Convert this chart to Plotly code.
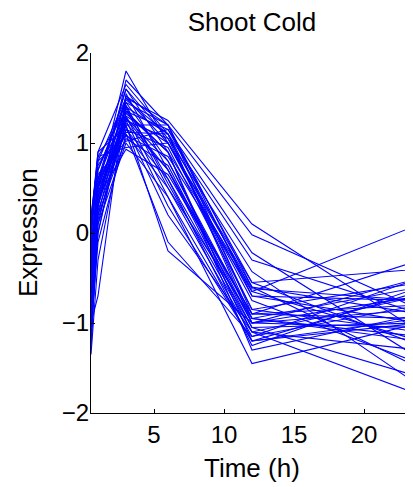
import plotly.graph_objects as go

time_h = [0.5, 1, 3, 6, 12, 24]

series = [
    [-0.20, 0.50, 1.80, 1.00, -0.60, -0.90],
    [-1.30, 0.30, 1.70, 1.20, -0.90, -0.80],
    [0.10, 0.90, 1.65, 1.10, -1.00, -0.70],
    [-0.50, 0.60, 1.60, 0.90, -1.20, -1.00],
    [-1.00, -0.70, 1.55, 0.70, -1.10, -1.30],
    [0.20, 0.80, 1.50, 1.25, 0.10, -1.10],
    [-0.30, 0.40, 1.50, 1.00, -0.55, -0.40],
    [-0.80, 0.20, 1.45, 0.80, -0.95, -0.60],
    [0.00, 0.70, 1.45, 1.20, -0.02, -0.85],
    [-0.60, 0.50, 1.40, 0.60, -1.05, -1.60],
    [-1.20, 0.10, 1.40, 1.10, -0.65, -1.20],
    [-0.40, 0.60, 1.38, 0.50, -1.15, -0.50],
    [0.10, 0.85, 1.35, 1.15, -0.22, -1.40],
    [-0.90, 0.00, 1.35, 0.90, -1.30, -0.90],
    [-0.10, 0.50, 1.30, 0.40, -1.45, -1.00],
    [-0.70, 0.30, 1.30, 1.00, -0.70, -0.75],
    [-1.35, -0.30, 1.28, 0.80, -1.00, -1.05],
    [0.05, 0.75, 1.25, 0.30, -1.20, -0.95],
    [-0.50, 0.40, 1.25, 1.05, -0.43, -1.70],
    [-0.25, 0.55, 1.22, 0.70, -0.90, -0.30],
    [-1.00, 0.15, 1.20, -0.20, -1.00, -0.85],
    [-0.60, 0.45, 1.20, 1.20, -0.60, -1.50],
    [0.15, 0.90, 1.18, 0.20, -1.10, -0.70],
    [-0.35, 0.35, 1.15, 0.95, -0.85, -1.10],
    [-0.80, 0.25, 1.15, 0.60, -1.25, -0.60],
    [-0.15, 0.60, 1.12, 1.10, -0.30, -0.90],
    [-1.10, -0.10, 1.10, 0.50, -0.95, -1.20],
    [-0.45, 0.50, 1.10, -0.10, -1.15, -0.80],
    [0.00, 0.80, 1.08, 0.85, -0.65, 0.10],
    [-0.70, 0.20, 1.05, 0.75, -1.05, -1.00],
    [-0.30, 0.65, 1.02, 1.15, -0.55, -1.25],
    [-0.90, 0.10, 1.00, 0.40, -1.20, -0.65],
    [0.10, 0.85, 0.95, 1.00, -0.75, -1.45],
    [-0.55, 0.40, 0.93, 0.65, -0.90, -0.95],
    [-0.20, 0.55, 1.60, 1.05, -0.85, -0.55],
    [-1.15, 0.00, 1.42, 0.55, -1.10, -1.80],
    [-0.65, 0.35, 1.33, 0.90, -0.62, -0.75],
    [-0.05, 0.70, 1.48, 1.10, -0.95, -1.15],
    [-0.40, 0.45, 1.27, 0.70, -1.00, -0.50],
    [-0.75, 0.30, 1.52, 1.20, -0.70, -1.00],
]

x_ticks = [5, 10, 15, 20]
y_ticks = [-2, -1, 0, 1, 2]

FONT = "Liberation Sans, Arial, Helvetica, sans-serif"

# page body adds an 8px offset; figure sized to fit the window without overflow
W, H = 405, 479
L, R, T, B = 83, 0, 45, 74
pw, ph = W - L - R, H - T - B

fig = go.Figure()
for s in series:
    fig.add_trace(go.Scatter(x=time_h, y=s, mode="lines",
                             line=dict(color="#0000ff", width=1.1),
                             showlegend=False, hoverinfo="skip"))

fig.update_layout(
    width=W, height=H,
    margin=dict(l=L, r=R, t=T, b=B),
    paper_bgcolor="white", plot_bgcolor="white",
    font=dict(family=FONT, color="black", size=24),
    title=dict(text="Shoot Cold", x=0.5, xref="paper", xanchor="center",
               y=1 - 14 / H, yanchor="middle", yref="container",
               font=dict(size=26, family=FONT, color="black")),
    xaxis=dict(range=[0.5, 23.5], tickvals=x_ticks, ticks="inside", ticklen=4,
               tickcolor="black", showline=True, linecolor="black", linewidth=1,
               showgrid=False, zeroline=False, tickfont=dict(size=24),
               ticklabelstandoff=0),
    yaxis=dict(range=[-2, 2], tickvals=y_ticks, ticks="inside", ticklen=4,
               tickcolor="black", showline=True, linecolor="black", linewidth=1,
               showgrid=False, zeroline=False, tickfont=dict(size=24),
               ticklabelstandoff=-4),
    annotations=[
        dict(text="Time (h)", xref="paper", yref="paper",
             x=0.5, y=-(460 - (H - B)) / ph, xanchor="center",
             yanchor="middle", showarrow=False, font=dict(size=26)),
        dict(text="Expression", xref="paper", yref="paper",
             x=-(L - 20) / pw, y=0.5, xanchor="center",
             yanchor="middle", textangle=-90, showarrow=False,
             font=dict(size=26)),
    ],
)

fig.write_html("out.html")
